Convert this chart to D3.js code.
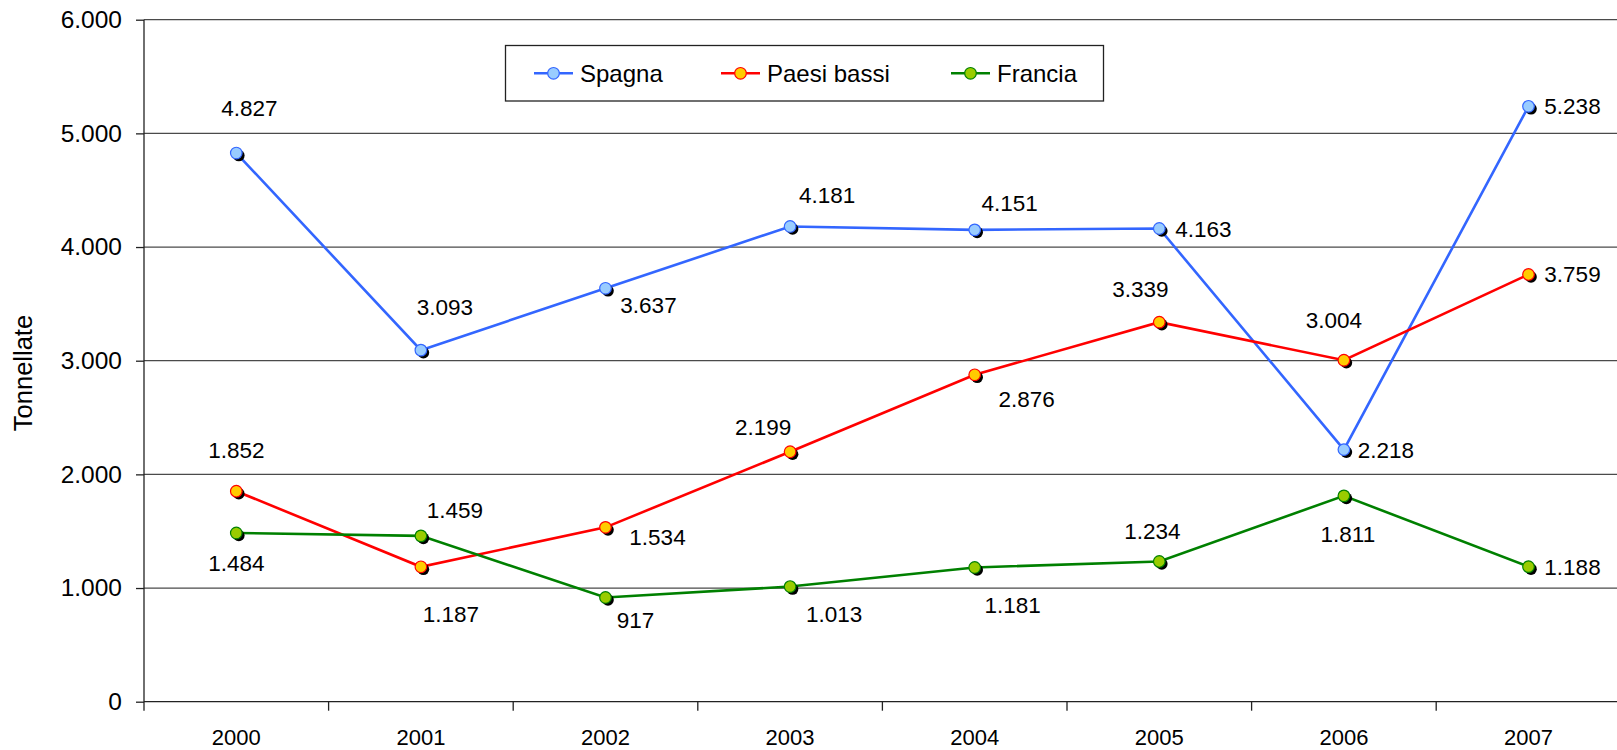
<!DOCTYPE html>
<html>
<head>
<meta charset="utf-8">
<script src="https://cdn.jsdelivr.net/npm/d3@7"></script>
<style>
  html, body { margin: 0; padding: 0; background: #fff; }
  svg { display: block; font-family: "Liberation Sans", Arial, sans-serif; }
</style>
</head>
<body>
<svg id="chart" width="1617" height="750"></svg>
<script>
// data
var years = ['2000', '2001', '2002', '2003', '2004', '2005', '2006', '2007'];
var spagna = [4827, 3093, 3637, 4181, 4151, 4163, 2218, 5238];
var paesiBassi = [1852, 1187, 1534, 2199, 2876, 3339, 3004, 3759];
var francia = [1484, 1459, 917, 1013, 1181, 1234, 1811, 1188];
var yTicks = [0, 1000, 2000, 3000, 4000, 5000, 6000];
var seriesNames = ['Spagna', 'Paesi bassi', 'Francia'];

// label placement (pixel offsets from each point), kept apart from the values
var labelOffsets = [
  [[13, -45], [24, -43], [43, 17], [37, -31], [35, -27], [44, 0], [42, 0], [44, 0]],
  [[0, -41], [30, 47], [52, 10], [-27, -25], [52, 24], [-19, -33], [-10, -40], [44, 0]],
  [[0, 30], [34, -26], [30, 23], [44, 27], [38, 38], [-7, -30], [4, 38], [44, 0]]
];

var styles = [
  {line: '#3366ff', fill: '#99ccff', stroke: '#3366ff'},
  {line: '#ff0000', fill: '#ffcc00', stroke: '#ff0000'},
  {line: '#008000', fill: '#99cc00', stroke: '#008000'}
];

(function () {
  var W = 1617;
  var plotLeft = 144, plotBottom = 701.7, plotTop = 19.7;
  var svg = d3.select('#chart');

  var itFmt = d3.formatLocale({decimal: ',', thousands: '.', grouping: [3], currency: ['€', '']}).format(',d');

  var x = d3.scaleBand().domain(years).range([plotLeft, plotLeft + 8 * 184.6]);
  var y = d3.scaleLinear().domain([0, 6000]).range([plotBottom, plotTop]);

  // gridlines
  svg.append('g').selectAll('line').data(yTicks.filter(function (d) { return d > 0; }))
    .enter().append('line')
    .attr('x1', plotLeft).attr('x2', W)
    .attr('y1', function (d) { return y(d); }).attr('y2', function (d) { return y(d); })
    .attr('stroke', '#4a4a4a').attr('stroke-width', 1.3);

  // y axis
  var yAxis = svg.append('g').attr('transform', 'translate(' + plotLeft + ',0)')
    .call(d3.axisLeft(y).tickValues(yTicks).tickSize(8).tickPadding(14).tickFormat(itFmt));
  yAxis.select('.domain').attr('stroke', '#222').attr('stroke-width', 1.3)
    .attr('d', 'M0,' + plotTop + 'V' + (plotBottom + 9));
  yAxis.selectAll('.tick line').attr('stroke', '#222').attr('stroke-width', 1.3);
  yAxis.selectAll('.tick text').attr('font-size', 24.5).attr('fill', '#000')
    .attr('font-family', '"Liberation Sans", Arial, sans-serif');

  // x axis line and ticks between categories
  svg.append('line').attr('x1', plotLeft).attr('x2', W).attr('y1', plotBottom).attr('y2', plotBottom)
    .attr('stroke', '#222').attr('stroke-width', 1.3);
  svg.append('g').selectAll('line').data(years)
    .enter().append('line')
    .attr('x1', function (d) { return x(d) + x.bandwidth(); })
    .attr('x2', function (d) { return x(d) + x.bandwidth(); })
    .attr('y1', plotBottom).attr('y2', plotBottom + 9)
    .attr('stroke', '#222').attr('stroke-width', 1.3);
  svg.append('g').selectAll('text').data(years)
    .enter().append('text')
    .attr('x', function (d) { return x(d) + x.bandwidth() / 2; })
    .attr('y', 745)
    .attr('text-anchor', 'middle').attr('font-size', 22).attr('fill', '#000')
    .text(function (d) { return d; });

  // y axis title
  svg.append('text')
    .attr('transform', 'translate(32,373) rotate(-90)')
    .attr('text-anchor', 'middle').attr('font-size', 25.5).attr('fill', '#000')
    .text('Tonnellate');

  var cx = function (i) { return x(years[i]) + x.bandwidth() / 2; };
  var allSeries = [spagna, paesiBassi, francia];

  allSeries.forEach(function (vals, s) {
    var st = styles[s];
    var line = d3.line().x(function (d, i) { return cx(i); }).y(function (d) { return y(d); });
    var g = svg.append('g');
    g.append('path').datum(vals).attr('d', line)
      .attr('fill', 'none').attr('stroke', st.line).attr('stroke-width', 2.6);
    // shadows
    g.selectAll('circle.sh').data(vals).enter().append('circle')
      .attr('class', 'sh')
      .attr('cx', function (d, i) { return cx(i) + 2.5; })
      .attr('cy', function (d) { return y(d) + 2.5; })
      .attr('r', 5.8).attr('fill', '#000');
    g.selectAll('circle.mk').data(vals).enter().append('circle')
      .attr('class', 'mk')
      .attr('cx', function (d, i) { return cx(i); })
      .attr('cy', function (d) { return y(d); })
      .attr('r', 5.8).attr('fill', st.fill).attr('stroke', st.stroke).attr('stroke-width', 1.2);
  });

  // data labels
  allSeries.forEach(function (vals, s) {
    svg.append('g').selectAll('text').data(vals).enter().append('text')
      .attr('x', function (d, i) { return cx(i) + labelOffsets[s][i][0]; })
      .attr('y', function (d, i) { return y(d) + labelOffsets[s][i][1] + 8; })
      .attr('text-anchor', 'middle').attr('font-size', 22.5).attr('fill', '#000')
      .text(function (d) { return itFmt(d); });
  });

  // legend
  var lg = svg.append('g');
  lg.append('rect').attr('x', 505.5).attr('y', 45.5).attr('width', 598).attr('height', 55.5)
    .attr('fill', '#fff').attr('stroke', '#222').attr('stroke-width', 1.3);
  var legendX = [534, 721, 951];
  seriesNames.forEach(function (name, s) {
    var st = styles[s];
    var lx = legendX[s], ly = 73.3;
    lg.append('line').attr('x1', lx).attr('x2', lx + 39).attr('y1', ly).attr('y2', ly)
      .attr('stroke', st.line).attr('stroke-width', 2.6);
    lg.append('circle').attr('cx', lx + 19.5).attr('cy', ly).attr('r', 5.8)
      .attr('fill', st.fill).attr('stroke', st.stroke).attr('stroke-width', 1.2);
    lg.append('text').attr('x', lx + 46).attr('y', ly + 8.5)
      .attr('font-size', 24).attr('fill', '#000').text(name);
  });
})();
</script>
</body>
</html>
